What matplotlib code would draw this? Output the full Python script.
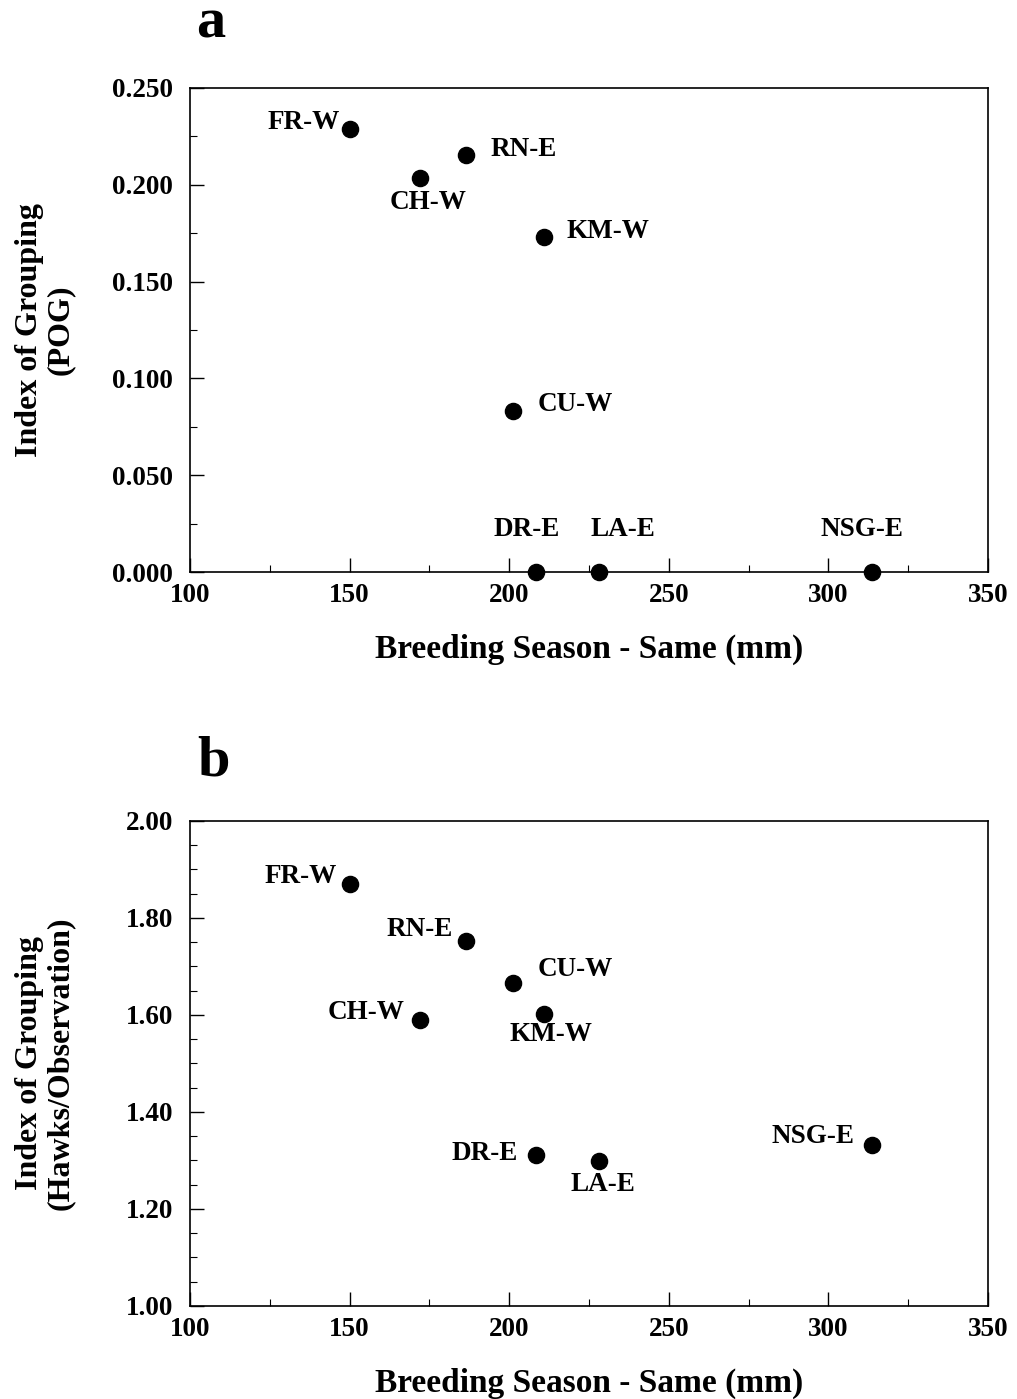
import matplotlib
matplotlib.use('Agg')
import matplotlib.pyplot as plt
from matplotlib.ticker import MultipleLocator, FormatStrFormatter

plt.rcParams.update({'font.family': 'Liberation Serif', 'font.weight': 'bold', 'font.size': 19})

sites = ['FR-W', 'CH-W', 'RN-E', 'KM-W', 'CU-W', 'DR-E', 'LA-E', 'NSG-E']
rain = [150, 172, 186.5, 211, 201.2, 208.4, 228.1, 313.7]
pog = [0.229, 0.2035, 0.2154, 0.173, 0.0832, 0.0, 0.0, 0.0]
hawks_per_obs = [1.870, 1.590, 1.753, 1.602, 1.666, 1.311, 1.299, 1.332]

# label placement (pixel offsets from point, alignment)
offsets_a = {'FR-W': (-10, 6, 'right'), 'CH-W': (8, -24, 'center'), 'RN-E': (24, 5, 'left'),
             'KM-W': (22, 6, 'left'), 'CU-W': (25, 6, 'left'), 'DR-E': (-9, 43, 'center'),
             'LA-E': (24, 43, 'center'), 'NSG-E': (-10, 43, 'center')}
offsets_b = {'FR-W': (-13, 7, 'right'), 'CH-W': (-15, 7, 'right'), 'RN-E': (-13, 11, 'right'),
             'KM-W': (7, -21, 'center'), 'CU-W': (25, 13, 'left'), 'DR-E': (-18, 2, 'right'),
             'LA-E': (4, -24, 'center'), 'NSG-E': (-18, 8, 'right')}

fig = plt.figure(figsize=(10.17, 13.99), dpi=100)
ax_a = fig.add_axes([0.1868, 0.5911, 0.7847, 0.346])
ax_b = fig.add_axes([0.1868, 0.0665, 0.7847, 0.3467])

panels = [(ax_a, pog, offsets_a, 'Index of Grouping\n(POG)', (0, 0.25), 0.05, 0.025, '%.3f'),
          (ax_b, hawks_per_obs, offsets_b, 'Index of Grouping\n(Hawks/Observation)', (1.0, 2.0), 0.2, 0.05, '%.2f')]

px = 72 / 100  # points per pixel

for ax, vals, offs, ylab, ylim, ymaj, ymin, fmt in panels:
    ax.scatter(rain, vals, s=135, color='black', zorder=3, clip_on=False)
    for name, x, y in zip(sites, rain, vals):
        dx, dy, ha = offs[name]
        ax.annotate(name, (x, y), xytext=(dx * px, dy * px), textcoords='offset points',
                    ha=ha, va='center', fontsize=19.5, fontweight='bold')
    ax.set_xlim(100, 350)
    ax.set_ylim(*ylim)
    ax.xaxis.set_major_locator(MultipleLocator(50))
    ax.xaxis.set_minor_locator(MultipleLocator(25))
    ax.yaxis.set_major_locator(MultipleLocator(ymaj))
    ax.yaxis.set_minor_locator(MultipleLocator(ymin))
    ax.yaxis.set_major_formatter(FormatStrFormatter(fmt))
    ax.tick_params(which='both', direction='in', top=False, right=False, labelsize=19.5)
    ax.tick_params(which='major', length=10, width=1.0)
    ax.tick_params(which='minor', length=5, width=0.8)
    ax.tick_params(axis='y', which='major', pad=12)
    ax.tick_params(axis='x', which='major', pad=8)
    for sp in ax.spines.values():
        sp.set_linewidth(1.2)
    ax.text(0.5, -77 / ax.bbox.height, 'Breeding Season - Same (mm)', transform=ax.transAxes,
            ha='center', va='center', fontsize=24, fontweight='bold')
    ax.text(-145 / 798, 0.5, ylab, transform=ax.transAxes, rotation=90,
            ha='center', va='center', fontsize=23, fontweight='bold', linespacing=1.1)

fig.text(211 / 1017, 1 - 37 / 1399, 'a', ha='center', va='baseline', fontsize=42, fontweight='bold')
fig.text(213 / 1017, 1 - 776 / 1399, 'b', ha='center', va='baseline', fontsize=42, fontweight='bold')

fig.savefig('out.png', dpi=100)
